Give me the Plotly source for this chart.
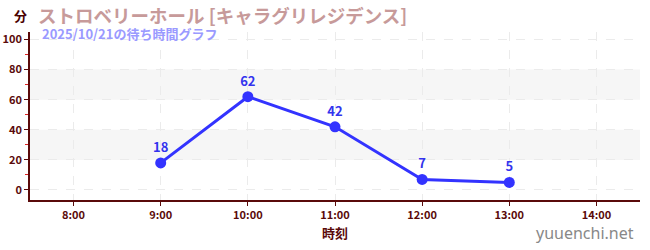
import plotly.graph_objects as go

hours = [9, 10, 11, 12, 13]
waits = [18, 62, 42, 7, 5]
tick_vals = [8, 9, 10, 11, 12, 13, 14]
tick_text = ["8:00", "9:00", "10:00", "11:00", "12:00", "13:00", "14:00"]
title_text = "ストロベリーホール [キャラグリレジデンス]"
subtitle_text = "2025/10/21の待ち時間グラフ"

font_fam = "Noto Sans CJK JP, Noto Sans, sans-serif"
axis_col = "#5a0a0a"

ML, MR, MT, MB = 30, 10, 32, 50

fig = go.Figure()
fig.add_trace(go.Scatter(
    x=hours, y=waits, mode="lines+markers+text",
    line=dict(color="#3333ff", width=3),
    marker=dict(color="#3333ff", size=11),
    text=[str(v) for v in waits], textposition="top center",
    textfont=dict(color="#3333ee", size=13, family=font_fam, weight="bold"),
    cliponaxis=False, hoverinfo="skip", showlegend=False,
))

for y0, y1 in [(20, 40), (60, 80)]:
    fig.add_shape(type="rect", xref="paper", yref="y", x0=0, x1=1, y0=y0, y1=y1,
                  fillcolor="#f6f6f6", line_width=0, layer="below")

fig.update_layout(
    width=650, height=250,
    margin=dict(l=ML, r=MR, t=MT, b=MB, autoexpand=False),
    plot_bgcolor="white", paper_bgcolor="white",
    font=dict(family=font_fam, color=axis_col),
    xaxis=dict(range=[7.5, 14.5], tickvals=tick_vals, ticktext=tick_text,
               showline=True, linecolor=axis_col, linewidth=1.5,
               ticks="outside", ticklen=4, tickcolor=axis_col,
               showgrid=True, gridcolor="#ebebeb", griddash="dash",
               tickfont=dict(size=11, color=axis_col, weight="bold"),
               title=dict(text="時刻", font=dict(size=13, color=axis_col, weight="bold"), standoff=8),
               zeroline=False, fixedrange=True, automargin=False),
    yaxis=dict(range=[-6.67, 105], tickvals=[0, 20, 40, 60, 80, 100],
               showline=True, linecolor=axis_col, linewidth=1.5,
               ticks="outside", ticklen=4, tickcolor=axis_col,
               showgrid=True, gridcolor="#ebebeb", griddash="dash",
               tickfont=dict(size=11, color=axis_col, weight="bold"),
               minor=dict(tickvals=[10, 30, 50, 70, 90], ticks="outside", ticklen=3,
                          tickcolor="#dd2222", showgrid=False),
               zeroline=False, fixedrange=True, automargin=False),
    annotations=[
        dict(text=title_text, x=36, y=15, xref="paper", yref="paper", showarrow=False,
             xanchor="left", yanchor="middle",
             font=dict(size=18.5, color="#c79a9a", weight="bold", family=font_fam)),
        dict(text="分", x=12, y=16, xref="paper", yref="paper", showarrow=False,
             xanchor="left", yanchor="middle",
             font=dict(size=13, color="#4a0000", weight="bold", family=font_fam)),
        dict(text=subtitle_text, x=40, y=33, xref="paper", yref="paper", showarrow=False,
             xanchor="left", yanchor="middle",
             font=dict(size=13, color="#9a9aff", weight="bold", family=font_fam)),
        dict(text="yuuenchi.net", x=636, y=233, xref="paper", yref="paper", showarrow=False,
             xanchor="right", yanchor="middle",
             font=dict(size=16, color="#888888", family="Noto Sans, sans-serif")),
    ],
)

# convert pixel coords for annotations to paper coords
pw = 650 - ML - MR
ph = 250 - MT - MB
for a in fig.layout.annotations:
    px, py = a.x, a.y
    a.x = (px - ML) / pw
    a.y = 1 - (py - MT) / ph

fig.write_html("out.html")
